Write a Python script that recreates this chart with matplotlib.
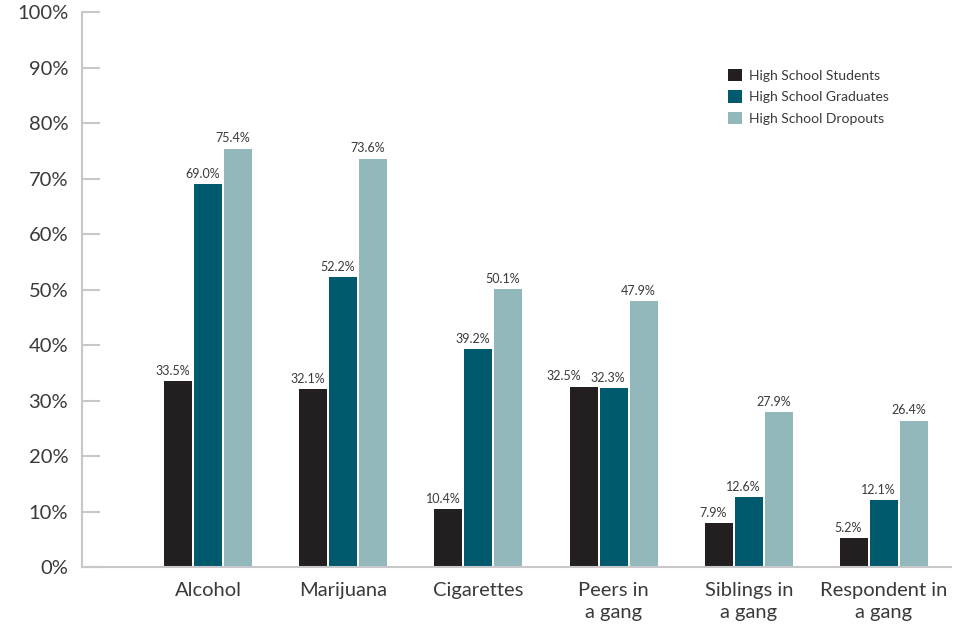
import numpy as np
import matplotlib.pyplot as plt

# -------------------------------------------------
# Data (percent)
# -------------------------------------------------
categories = ["Alcohol", "Marijuana", "Cigarettes", "Peers in\na gang",
              "Siblings in\na gang", "Respondent in\na gang"]
students = [33.5, 32.1, 10.4, 32.5, 7.9, 5.2]
graduates = [69.0, 52.2, 39.2, 32.3, 12.6, 12.1]
dropouts = [75.4, 73.6, 50.1, 47.9, 27.9, 26.4]
series_names = ["High School Students", "High School Graduates",
                "High School Dropouts"]
colors = ["#231f20", "#005a6e", "#93b8bb"]

plt.rcParams['font.family'] = ['Lato', 'DejaVu Sans']
TEXT = "#3a3a3a"
AXIS = "#c8c8cc"

fig = plt.figure(figsize=(9.63, 6.24), dpi=100)
ax = fig.add_axes([0.0852, 0.0913, 0.9023, 0.8894])

x = np.arange(len(categories))
w = 0.207
step = 0.222
for k, (vals, name, c) in enumerate(zip([students, graduates, dropouts],
                                        series_names, colors)):
    pos = x + (k - 1) * step
    ax.bar(pos, vals, width=w, color=c, label=name, zorder=2)
    for i, (p, v) in enumerate(zip(pos, vals)):
        dx = -4
        # keep the two near-equal "Peers" labels from colliding
        if i == 3 and k == 0:
            dx = -14
        ax.annotate(f"{v:.1f}%", (p, v), xytext=(dx, 3),
                    textcoords="offset points", ha="center", va="bottom",
                    fontsize=9, color=TEXT)

ax.set_ylim(0, 100)
ax.set_xlim(-0.933, 5.496)
ax.set_yticks(range(0, 101, 10))
ax.set_yticklabels([f"{t}%" for t in range(0, 101, 10)])
ax.set_xticks(x)
ax.set_xticklabels(categories, linespacing=1.35)

for s in ["top", "right"]:
    ax.spines[s].set_visible(False)
for s in ["left", "bottom"]:
    ax.spines[s].set_color(AXIS)
    ax.spines[s].set_linewidth(1.5)

ax.tick_params(axis="y", direction="in", length=13, width=1.5, color=AXIS,
               labelsize=14.5, labelcolor=TEXT, pad=10)
ax.tick_params(axis="x", length=0, labelsize=14.5, labelcolor=TEXT, pad=11)

ax.legend(loc="upper left", bbox_to_anchor=(0.729, 0.92), frameon=False,
          fontsize=10, handlelength=1.0, handleheight=1.0,
          handletextpad=0.5, labelspacing=0.6, labelcolor=TEXT)

fig.savefig("out.png", dpi=100)
